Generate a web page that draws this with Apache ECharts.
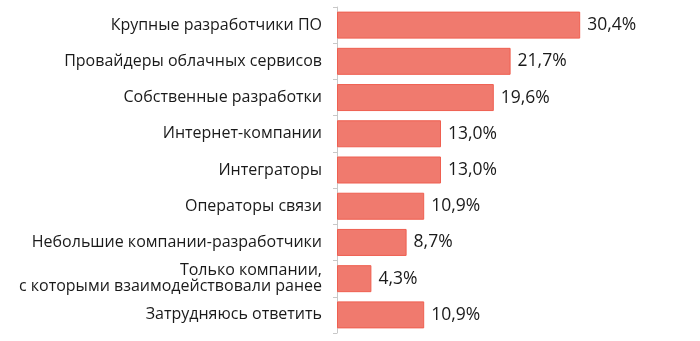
<!DOCTYPE html>
<html>
<head>
<meta charset="utf-8">
<script src="https://cdn.jsdelivr.net/npm/echarts@6/dist/echarts.min.js"></script>
<style>
html,body{margin:0;padding:0;background:#fff;}
#chart{width:700px;height:341px;}
</style>
</head>
<body>
<div id="chart"></div>
<script>
const categories = [
  "Крупные разработчики ПО",
  "Провайдеры облачных сервисов",
  "Собственные разработки",
  "Интернет-компании",
  "Интеграторы",
  "Операторы связи",
  "Небольшие компании-разработчики",
  "Только компании,\nс которыми взаимодействовали ранее",
  "Затрудняюсь ответить"
];
const values = [30.4, 21.7, 19.6, 13.0, 13.0, 10.9, 8.7, 4.3, 10.9];

const chart = echarts.init(document.getElementById('chart'), null, {renderer: 'canvas'});
chart.setOption({
  animation: false,
  backgroundColor: '#ffffff',
  grid: {left: 337, right: 43, top: 7, bottom: 8, containLabel: false},
  xAxis: {
    type: 'value', min: 0, max: 40, show: false
  },
  yAxis: {
    type: 'category',
    data: categories,
    inverse: true,
    axisLine: {show: true, lineStyle: {color: '#c8c8c8', width: 1}},
    axisTick: {show: true, length: 4, lineStyle: {color: '#c8c8c8'}},
    axisLabel: {
      margin: 15,
      color: '#1a1a1a',
      fontFamily: 'Open Sans, Liberation Sans, sans-serif',
      fontSize: 16,
      lineHeight: 15.5,
      align: 'right'
    },
    splitLine: {show: false}
  },
  series: [{
    type: 'bar',
    data: values,
    barWidth: 27,
    itemStyle: {color: '#f07a6e', borderColor: '#ef5f50', borderWidth: 1},
    label: {
      show: true,
      position: 'right',
      distance: 7,
      color: '#1a1a1a',
      fontFamily: 'Open Sans, Liberation Sans, sans-serif',
      fontSize: 17.5,
      formatter: p => p.value.toFixed(1).replace('.', ',') + '%'
    }
  }]
});
</script>
</body>
</html>
